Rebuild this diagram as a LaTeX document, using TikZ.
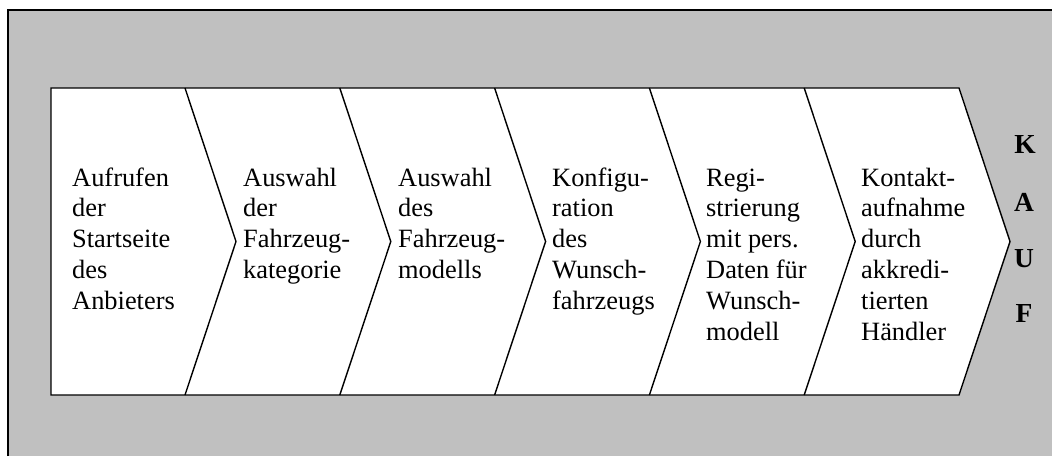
\documentclass[tikz,border=0pt]{standalone}
\usepackage{fontspec}
\setmainfont{Liberation Serif}
\definecolor{silver}{RGB}{192,192,192}
\begin{document}
\begin{tikzpicture}[x=1pt,y=-1pt,
  steptext/.style={anchor=base west, inner sep=0pt, font=\fontsize{26.4}{30.8}\selectfont},
  kauf/.style={anchor=base, inner sep=0pt, font=\fontsize{27.5}{30}\selectfont\bfseries},
  frameline/.style={line width=1.5pt},
  chev/.style={line width=1.4pt, line join=miter}]
\useasboundingbox (0,0) rectangle (1052,456);
\fill[silver] (8,10) rectangle (1052,456);
\draw[frameline] (8,456) -- (8,10) -- (1052,10);
% chevron chain
\coordinate (tl) at (51,88);
\coordinate (tr) at (959,88);
\coordinate (tip) at (1010,241.5);
\coordinate (br) at (959,395);
\coordinate (bl) at (51,395);
\filldraw[chev, fill=white] (tl) -- (tr) -- (tip) -- (br) -- (bl) -- cycle;
\foreach \i in {0,...,4}
  \draw[chev] (185+154.8*\i,88) -- (236+154.8*\i,241.5) -- (185+154.8*\i,395);
% step texts
\node[steptext] (s1) at (72,186) {\begin{tabular}[t]{@{}l@{}}Aufrufen\\der\\Startseite\\des\\Anbieters\end{tabular}};
\node[steptext] (s2) at (243,186) {\begin{tabular}[t]{@{}l@{}}Auswahl\\der\\Fahrzeug-\\kategorie\end{tabular}};
\node[steptext] (s3) at (398,186) {\begin{tabular}[t]{@{}l@{}}Auswahl\\des\\Fahrzeug-\\modells\end{tabular}};
\node[steptext] (s4) at (552,186) {\begin{tabular}[t]{@{}l@{}}Konfigu-\\ration\\des\\Wunsch-\\fahrzeugs\end{tabular}};
\node[steptext] (s5) at (706,186) {\begin{tabular}[t]{@{}l@{}}Regi-\\strierung\\mit pers.\\Daten für\\Wunsch-\\modell\end{tabular}};
\node[steptext] (s6) at (861,186) {\begin{tabular}[t]{@{}l@{}}Kontakt-\\aufnahme\\durch\\akkredi-\\tierten\\Händler\end{tabular}};
% KAUF
\node[kauf] (k) at (1025,153) {K};
\node[kauf] (a) at (1024,211) {A};
\node[kauf] (u) at (1024,267) {U};
\node[kauf] (f) at (1024,322) {F};
\end{tikzpicture}
\end{document}
